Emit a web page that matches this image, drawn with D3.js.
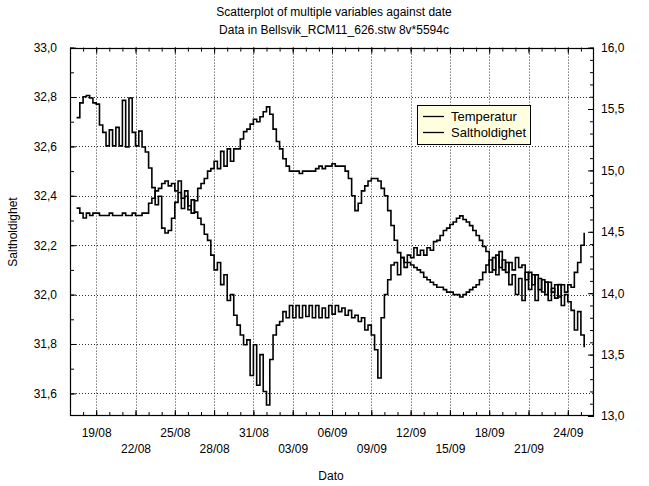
<!DOCTYPE html>
<html><head><meta charset="utf-8">
<script src="https://cdn.jsdelivr.net/npm/d3@7"></script>
<style>
body{margin:0;background:#fff}
text{font-family:"Liberation Sans",Arial,sans-serif;fill:#000}
</style>
</head><body>
<svg id="c" width="649" height="486"></svg>
<script>
// ---- data ----
const firstDay = "2006-08-17";      // day 0 of the record
const startOffsetDays = 0.5;         // first sample
const sampleStepDays = 0.25;         // sampling of the values below

// Temperatur (right axis)
const temperatur = [
15.43,15.55,15.60,15.61,15.59,15.55,15.54,15.37,15.31,15.20,15.33,15.20,15.35,15.20,15.57,15.19,
15.59,15.31,15.20,15.32,15.19,15.15,15.02,14.86,14.72,14.79,14.53,14.49,14.51,14.61,14.74,14.82,
14.69,14.79,14.68,14.76,14.66,14.61,14.56,14.48,14.43,14.31,14.19,14.25,14.07,14.15,13.94,13.99,
13.82,13.74,13.66,13.58,13.62,13.33,13.58,13.25,13.50,13.20,13.09,13.46,13.66,13.74,13.77,13.85,
13.80,13.90,13.80,13.90,13.80,13.90,13.81,13.90,13.80,13.90,13.80,13.88,13.80,13.90,13.83,13.90,
13.85,13.88,13.82,13.86,13.80,13.82,13.77,13.80,13.70,13.74,13.66,13.54,13.31,13.80,13.99,14.11,
14.23,14.25,14.15,14.29,14.21,14.31,14.29,14.37,14.31,14.35,14.31,14.37,14.35,14.42,14.43,14.47,
14.51,14.53,14.56,14.58,14.61,14.63,14.60,14.58,14.55,14.51,14.47,14.43,14.38,14.34,14.17,14.29,
14.15,14.34,14.19,14.25,14.07,14.15,13.99,14.12,13.94,14.17,14.03,14.15,13.94,14.12,14.01,14.09,
13.94,14.04,13.96,14.07,13.90,13.99,13.93,13.86,13.70,13.85,13.66,13.56
];

// Saltholdighet (left axis)
const saltholdighet = [
32.35,32.33,32.31,32.33,32.32,32.33,32.33,32.32,32.32,32.32,32.33,32.32,32.32,32.32,32.33,32.32,
32.32,32.33,32.32,32.32,32.33,32.33,32.37,32.39,32.42,32.43,32.45,32.46,32.44,32.45,32.42,32.46,
32.39,32.42,32.36,32.33,32.38,32.43,32.45,32.47,32.50,32.51,32.54,32.51,32.58,32.52,32.59,32.54,
32.59,32.59,32.63,32.66,32.67,32.69,32.71,32.70,32.72,32.74,32.76,32.73,32.67,32.62,32.59,32.55,
32.52,32.50,32.50,32.50,32.49,32.50,32.50,32.50,32.50,32.51,32.52,32.51,32.52,32.52,32.53,32.52,
32.52,32.52,32.50,32.47,32.40,32.34,32.37,32.42,32.44,32.46,32.47,32.47,32.46,32.43,32.40,32.34,
32.28,32.22,32.17,32.15,32.13,32.13,32.12,32.11,32.10,32.09,32.07,32.06,32.05,32.04,32.03,32.03,
32.02,32.01,32.01,32.00,32.00,31.99,32.00,32.01,32.02,32.03,32.04,32.06,32.09,32.12,32.14,32.10,
32.16,32.11,32.14,32.09,32.13,32.10,32.15,32.11,32.12,32.06,32.09,32.04,32.08,32.02,32.06,32.00,
32.05,32.01,32.04,31.99,32.04,32.01,32.04,32.03,32.09,32.13,32.20,32.25
];

const xTickLabels = ["19/08","22/08","25/08","28/08","31/08","03/09","06/09","09/09","12/09","15/09","18/09","21/09","24/09"];
const leftTickValues = [31.6,31.8,32.0,32.2,32.4,32.6,32.8,33.0];
const rightTickValues = [13.0,13.5,14.0,14.5,15.0,15.5,16.0];
const seriesNames = ["Temperatur","Saltholdighet"];
const titleLines = ["Scatterplot of multiple variables against date","Data in Bellsvik_RCM11_626.stw 8v*5594c"];

// ---- layout ----
const W = 649, H = 486;
const L = 70, R = 594, T = 47.6, B = 416;
const svg = d3.select("#c");
svg.append("rect").attr("width",W).attr("height",H).attr("fill","#fff");

const day0 = d3.utcParse("%Y-%m-%d")(firstDay);
const dayMs = 864e5;
const x = d3.scaleUtc()
  .domain([day0, d3.utcDay.offset(day0, 40)])
  .range([L, R]);
const yL = d3.scaleLinear().domain([31.5085, 33.0]).range([B, T]);
const yR = d3.scaleLinear().domain([13.0, 16.0]).range([B, T]);

const parseLab = d3.utcParse("%d/%m/%Y");
const xTickDates = xTickLabels.map(s => parseLab(s + "/2006"));
const labelOf = new Map(xTickDates.map((d,i)=>[+d, xTickLabels[i]]));

// gridlines (dotted)
const grid = svg.append("g").attr("stroke","#333").attr("stroke-width",1).attr("stroke-dasharray","1,2");
grid.selectAll("line.v").data(xTickDates).join("line")
  .attr("x1",d=>Math.round(x(d))+0.5).attr("x2",d=>Math.round(x(d))+0.5)
  .attr("y1",T).attr("y2",B);
grid.selectAll("line.h").data(leftTickValues.filter(v=>v<33)).join("line")
  .attr("x1",L).attr("x2",R)
  .attr("y1",d=>Math.round(yL(d))+0.5).attr("y2",d=>Math.round(yL(d))+0.5);

// series
const times = (arr) => arr.map((v,i)=> new Date(+day0 + (startOffsetDays + i*sampleStepDays)*dayMs));
const tT = times(temperatur), tS = times(saltholdighet);
const lineT = d3.line().curve(d3.curveStepAfter).x((d,i)=>x(tT[i])).y(d=>yR(d));
const lineS = d3.line().curve(d3.curveStepAfter).x((d,i)=>x(tS[i])).y(d=>yL(d));
svg.append("path").attr("d",lineT(temperatur)).attr("fill","none").attr("stroke","#000").attr("stroke-width",1.6);
svg.append("path").attr("d",lineS(saltholdighet)).attr("fill","none").attr("stroke","#000").attr("stroke-width",1.6);

// axes
function styleAxis(g){
  g.select(".domain").remove();
  g.selectAll("line").attr("stroke","#000");
  g.selectAll("text").attr("font-size",12).attr("font-family","Liberation Sans, Arial, sans-serif");
}
const minorDays = d3.utcDay.range(day0, d3.utcDay.offset(day0,40));
// bottom
svg.append("g").attr("transform",`translate(0,${B})`)
  .call(d3.axisBottom(x).tickValues(minorDays).tickFormat("").tickSizeInner(-4).tickSizeOuter(0)).call(styleAxis);
const bx = svg.append("g").attr("transform",`translate(0,${B})`)
  .call(d3.axisBottom(x).tickValues(xTickDates).tickFormat(d=>labelOf.get(+d)).tickSizeInner(-6).tickSizeOuter(0).tickPadding(12)).call(styleAxis);
bx.selectAll("text").attr("dy",(d,i)=> i%2 ? "2.05em" : "0.71em");
// top
svg.append("g").attr("transform",`translate(0,${T})`)
  .call(d3.axisTop(x).tickValues(minorDays).tickFormat("").tickSizeInner(-4).tickSizeOuter(0)).call(styleAxis);
svg.append("g").attr("transform",`translate(0,${T})`)
  .call(d3.axisTop(x).tickValues(xTickDates).tickFormat("").tickSizeInner(-6).tickSizeOuter(0)).call(styleAxis);
// left
const fmt = v => d3.format(".1f")(v).replace(".",",");
svg.append("g").attr("transform",`translate(${L},0)`)
  .call(d3.axisLeft(yL).ticks(15).tickFormat("").tickSizeInner(-4).tickSizeOuter(0)).call(styleAxis);
svg.append("g").attr("transform",`translate(${L},0)`)
  .call(d3.axisLeft(yL).tickValues(leftTickValues).tickFormat(fmt).tickSizeInner(-6).tickSizeOuter(0).tickPadding(13)).call(styleAxis);
// right
svg.append("g").attr("transform",`translate(${R},0)`)
  .call(d3.axisRight(yR).ticks(30).tickFormat("").tickSizeInner(-4).tickSizeOuter(0)).call(styleAxis);
svg.append("g").attr("transform",`translate(${R},0)`)
  .call(d3.axisRight(yR).tickValues(rightTickValues).tickFormat(fmt).tickSizeInner(-6).tickSizeOuter(0).tickPadding(7)).call(styleAxis);

// frame
svg.append("rect").attr("x",L+0.5).attr("y",Math.round(T)+0.5).attr("width",R-L-1).attr("height",B-Math.round(T)-1)
  .attr("fill","none").attr("stroke","#000").attr("stroke-width",1.2);

// titles
svg.append("text").attr("x",334).attr("y",16).attr("text-anchor","middle").attr("font-size",12).text(titleLines[0]);
svg.append("text").attr("x",334).attr("y",34).attr("text-anchor","middle").attr("font-size",12).text(titleLines[1]);
svg.append("text").attr("x",331).attr("y",480).attr("text-anchor","middle").attr("font-size",12).text("Dato");
svg.append("text").attr("transform","translate(17,232) rotate(-90)").attr("text-anchor","middle").attr("font-size",12).text("Saltholdighet");

// legend
const lg = svg.append("g");
lg.append("rect").attr("x",417.5).attr("y",105.5).attr("width",113).attr("height",39)
  .attr("fill","#ffffe0").attr("stroke","#000").attr("stroke-width",1);
seriesNames.forEach((n,i)=>{
  const yy = 116 + i*16;
  lg.append("line").attr("x1",423).attr("x2",444).attr("y1",yy+0.5).attr("y2",yy+0.5).attr("stroke","#000").attr("stroke-width",1.3);
  lg.append("text").attr("x",451).attr("y",yy+4.5).attr("font-size",13).text(n);
});
</script>
</body></html>
